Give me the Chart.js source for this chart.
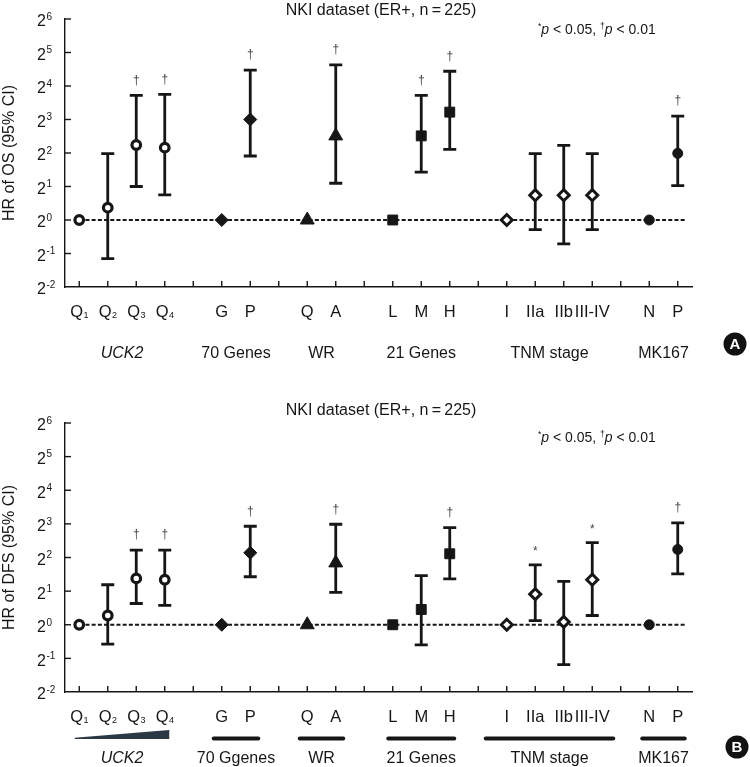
<!DOCTYPE html>
<html><head><meta charset="utf-8">
<script src="https://cdn.jsdelivr.net/npm/chart.js@4.4.1/dist/chart.umd.min.js"></script>
<style>
html,body{margin:0;padding:0;background:#fff;}
#wrap{position:relative;width:750px;height:767px;overflow:hidden;}
canvas{position:absolute;left:0;}
</style></head><body>
<div id="wrap">
<canvas id="c1" width="750" height="383" style="top:0px"></canvas>
<canvas id="c2" width="750" height="384" style="top:383px"></canvas>
</div>
<script>
// ---------- data ----------
const categories = ['Q1','Q2','Q3','Q4','','G','P','','Q','A','','L','M','H','','I','IIa','IIb','III-IV','','N','P'];
const groupOf    = [0,0,0,0,-1,1,1,-1,2,2,-1,3,3,3,-1,4,4,4,4,-1,5,5];
const groupNamesOS  = ['UCK2','70 Genes','WR','21 Genes','TNM stage','MK167'];
const groupNamesDFS = ['UCK2','70 Ggenes','WR','21 Genes','TNM stage','MK167'];
const yTickExponents = [-2,-1,0,1,2,3,4,5,6];

// Hazard ratios (OS)
const osHR    = [1, 1.29, 4.72, 4.47, null, 1, 8.0, null, 1, 5.70, null, 1, 5.70, 9.32, null, 1, 1.67, 1.67, 1.67, null, 1, 3.97];
const osLower = [null, 0.45, 2.0, 1.68, null, null, 3.76, null, null, 2.14, null, null, 2.69, 4.32, null, null, 0.82, 0.61, 0.82, null, null, 2.04];
const osUpper = [null, 3.95, 13.2, 13.45, null, null, 22.2, null, null, 24.8, null, null, 13.2, 21.7, null, null, 3.95, 4.69, 3.95, null, null, 8.57];
const osSig   = ['','','†','†','','','†','','','†','','','†','†','','','','','','','','†'];

// Hazard ratios (DFS)
const dfsHR    = [1, 1.21, 2.60, 2.53, null, 1, 4.41, null, 1, 3.58, null, 1, 1.37, 4.32, null, 1, 1.88, 1.06, 2.53, null, 1, 4.72];
const dfsLower = [null, 0.67, 1.55, 1.49, null, null, 2.69, null, null, 1.95, null, null, 0.66, 2.57, null, null, 1.09, 0.44, 1.21, null, null, 2.85];
const dfsUpper = [null, 2.28, 4.66, 4.66, null, null, 7.62, null, null, 7.94, null, null, 2.75, 7.41, null, null, 3.43, 2.45, 5.43, null, null, 8.17];
const dfsSig   = ['','','†','†','','','†','','','†','','','','†','','','*','','*','','','†'];

const titleText = 'NKI dataset (ER+, n\u2009=\u2009225)';

// ---------- styling ----------
const FONT = '"Liberation Sans", Arial, Helvetica, sans-serif';
const INK = '#161616';

function marker(g) {
  switch (g) {
    case 0: return {style:'circle',   r:4.3, bw:3.2, bg:'#ffffff'};
    case 1: return {style:'rectRot',  r:6.5, bw:1,   bg:INK};
    case 2: return {style:'triangle', r:8,   bw:1,   bg:INK};
    case 3: return {style:'rect',     r:7,   bw:1,   bg:INK};
    case 4: return {style:'rectRot',  r:5.5, bw:3,   bg:'#ffffff'};
    case 5: return {style:'circle',   r:5,   bw:1,   bg:INK};
    default: return {style:'circle', r:0, bw:0, bg:INK};
  }
}

function groupSpan(g) {
  const idx = [];
  groupOf.forEach((v,i)=>{ if (v===g) idx.push(i); });
  return [idx[0], idx[idx.length-1]];
}

function drawXLabel(ctx, text, cx, baseline) {
  const m = /^([A-Z]+)(\d)$/.exec(text);
  if (m) {
    ctx.font = '16.5px ' + FONT;
    const w1 = ctx.measureText(m[1]).width;
    ctx.font = '9px ' + FONT;
    const w2 = ctx.measureText(m[2]).width;
    const x0 = cx - (w1 + w2) / 2;
    ctx.textAlign = 'left';
    ctx.font = '16.5px ' + FONT;
    ctx.fillText(m[1], x0, baseline);
    ctx.font = '9px ' + FONT;
    ctx.fillText(m[2], x0 + w1 + 0.3, baseline + 1);
  } else {
    ctx.font = '16.5px ' + FONT;
    ctx.textAlign = 'center';
    ctx.fillText(text, cx, baseline);
  }
}

function drawPText(ctx, x, y) {
  const parts = [['*','sup'],['p','it'],[' < 0.05, ','n'],['†','sup'],['p','it'],[' < 0.01','n']];
  ctx.textAlign = 'left';
  let cx = x;
  parts.forEach(([t, k]) => {
    if (k === 'sup') { ctx.font = '8.5px ' + FONT; ctx.fillText(t, cx, y - 5); }
    else if (k === 'it') { ctx.font = 'italic 14px ' + FONT; ctx.fillText(t, cx, y); }
    else { ctx.font = '14px ' + FONT; ctx.fillText(t, cx, y); }
    cx += ctx.measureText(t).width;
  });
}

function makePanel(p) {
  const plugin = {
    id: 'panelDecor',
    beforeDatasetsDraw(chart) {
      const ctx = chart.ctx, xs = chart.scales.x, ys = chart.scales.y;
      ctx.save();
      ctx.strokeStyle = INK;
      ctx.lineWidth = 1.8;
      ctx.setLineDash([4, 2.2]);
      const y0 = ys.getPixelForValue(1);
      ctx.beginPath();
      ctx.moveTo(xs.getPixelForValue(0), y0);
      ctx.lineTo(xs.getPixelForValue(categories.length - 1) + 8, y0);
      ctx.stroke();
      ctx.setLineDash([]);
      ctx.lineWidth = 2.8;
      p.lower.forEach((lo, i) => {
        if (lo == null) return;
        const x = xs.getPixelForValue(i);
        const yl = ys.getPixelForValue(lo), yh = ys.getPixelForValue(p.upper[i]);
        ctx.beginPath();
        ctx.moveTo(x, yl); ctx.lineTo(x, yh);
        ctx.moveTo(x - 6.5, yl); ctx.lineTo(x + 6.5, yl);
        ctx.moveTo(x - 6.5, yh); ctx.lineTo(x + 6.5, yh);
        ctx.stroke();
      });
      ctx.restore();
    },
    afterDraw(chart) {
      const ctx = chart.ctx, xs = chart.scales.x, ys = chart.scales.y;
      const area = chart.chartArea;
      ctx.save();
      ctx.strokeStyle = INK; ctx.fillStyle = INK; ctx.lineWidth = 1.4;
      // y ticks (inward) + labels 2^k
      yTickExponents.forEach(e => {
        const y = ys.getPixelForValue(Math.pow(2, e));
        if (e > yTickExponents[0]) {
          ctx.beginPath(); ctx.moveTo(area.left, y); ctx.lineTo(area.left + 6, y); ctx.stroke();
        }
        ctx.textBaseline = 'middle';
        ctx.textAlign = 'right';
        ctx.font = '16px ' + FONT;
        ctx.fillText('2', 46, y + 3);
        ctx.textAlign = 'left';
        ctx.font = '10px ' + FONT;
        ctx.fillText(String(e), 46.5, y - 2);
      });
      // x ticks (inward)
      categories.forEach((c, i) => {
        const x = xs.getPixelForValue(i);
        ctx.beginPath(); ctx.moveTo(x, area.bottom); ctx.lineTo(x, area.bottom - 6); ctx.stroke();
      });
      // x labels
      ctx.textBaseline = 'alphabetic';
      categories.forEach((c, i) => {
        if (!c) return;
        drawXLabel(ctx, c, xs.getPixelForValue(i), area.bottom + 30);
      });
      // group labels + underlines
      p.groups.forEach((name, g) => {
        const [a, b] = groupSpan(g);
        const xa = xs.getPixelForValue(a), xb = xs.getPixelForValue(b);
        const cx = (xa + xb) / 2;
        ctx.font = (g === 0 ? 'italic ' : '') + '16px ' + FONT;
        ctx.textAlign = 'center';
        ctx.fillStyle = INK;
        ctx.fillText(name, cx, area.bottom + 71);
        if (p.underline) {
          const pad = [4.5, 8, 7.5, 4.5, 21, 7][g];
          const yl = area.bottom + 46.5;
          if (g === 0) {
            ctx.fillStyle = '#2c3846';
            ctx.beginPath();
            ctx.moveTo(xa - pad, yl - 0.8);
            ctx.lineTo(xb + pad, yl - 8.5);
            ctx.lineTo(xb + pad, yl + 0.5);
            ctx.lineTo(xa - pad, yl + 0.4);
            ctx.closePath(); ctx.fill();
            ctx.fillStyle = INK;
          } else {
            ctx.lineWidth = 4; ctx.lineCap = 'round';
            ctx.beginPath(); ctx.moveTo(xa - pad, yl); ctx.lineTo(xb + pad, yl); ctx.stroke();
            ctx.lineCap = 'butt'; ctx.lineWidth = 1.4;
          }
        }
      });
      // significance marks
      ctx.font = '12px ' + FONT; ctx.fillStyle = '#444'; ctx.textAlign = 'center'; ctx.textBaseline = 'middle';
      p.sig.forEach((s, i) => {
        if (!s) return;
        const top = p.upper[i] != null ? p.upper[i] : p.hr[i];
        ctx.fillText(s, xs.getPixelForValue(i), ys.getPixelForValue(top) - (s === '*' ? 13 : 15));
      });
      ctx.fillStyle = INK;
      // title
      ctx.textBaseline = 'alphabetic';
      ctx.textAlign = 'center';
      ctx.font = '16px ' + FONT;
      ctx.fillText(titleText, 381, p.titleBaseline);
      // p-value note
      drawPText(ctx, 538, p.pBaseline);
      // y title
      ctx.save();
      ctx.translate(10, (area.top + area.bottom) / 2);
      ctx.rotate(-Math.PI / 2);
      ctx.textAlign = 'center'; ctx.textBaseline = 'middle';
      ctx.font = '16px ' + FONT;
      ctx.fillText(p.yTitle, 0, 0);
      ctx.restore();
      // panel letter
      const lx = p.letterX, ly = area.bottom + p.letterDy;
      ctx.beginPath(); ctx.arc(lx, ly, 11.5, 0, Math.PI * 2); ctx.fillStyle = '#111'; ctx.fill();
      ctx.fillStyle = '#fff'; ctx.font = 'bold 15px ' + FONT; ctx.textAlign = 'center'; ctx.textBaseline = 'middle';
      ctx.fillText(p.letter, lx, ly + 1);
      ctx.restore();
    }
  };

  return new Chart(document.getElementById(p.canvas), {
    type: 'line',
    data: {
      labels: categories,
      datasets: [{
        data: p.hr,
        showLine: false,
        clip: false,
        borderColor: INK,
        pointStyle: c => marker(groupOf[c.dataIndex]).style,
        pointRadius: c => marker(groupOf[c.dataIndex]).r,
        pointBorderWidth: c => marker(groupOf[c.dataIndex]).bw,
        pointBackgroundColor: c => marker(groupOf[c.dataIndex]).bg,
        pointBorderColor: INK,
        pointHoverRadius: c => marker(groupOf[c.dataIndex]).r
      }]
    },
    options: {
      responsive: false,
      animation: false,
      events: [],
      layout: { padding: p.padding },
      plugins: { legend: { display: false }, tooltip: { enabled: false } },
      scales: {
        x: {
          type: 'category', offset: true,
          grid: { display: false, drawTicks: false },
          ticks: { display: false },
          border: { display: true, color: INK, width: 1.4 }
        },
        y: {
          type: 'logarithmic', min: 0.25, max: 64, bounds: 'data',
          grid: { display: false, drawTicks: false },
          ticks: { display: false },
          border: { display: true, color: INK, width: 1.4 }
        }
      }
    },
    plugins: [plugin]
  });
}

makePanel({
  canvas: 'c1', hr: osHR, lower: osLower, upper: osUpper, sig: osSig,
  groups: groupNamesOS, yTitle: 'HR of OS (95% CI)',
  titleBaseline: 15, pBaseline: 34, letter: 'A', letterX: 735, letterDy: 57, underline: false,
  padding: { left: 65, right: 58, top: 19, bottom: 96 }
});
makePanel({
  canvas: 'c2', hr: dfsHR, lower: dfsLower, upper: dfsUpper, sig: dfsSig,
  groups: groupNamesDFS, yTitle: 'HR of DFS (95% CI)',
  titleBaseline: 32, pBaseline: 59, letter: 'B', letterX: 737, letterDy: 55, underline: true,
  padding: { left: 65, right: 58, top: 40, bottom: 75 }
});
</script>
</body></html>
